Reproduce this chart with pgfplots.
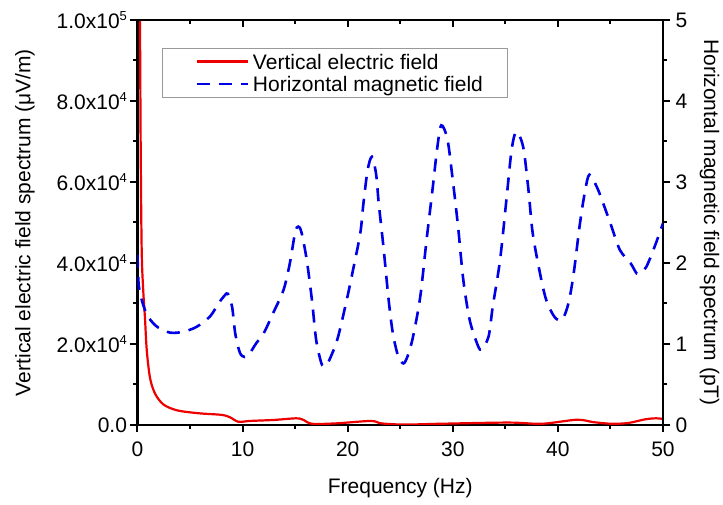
\documentclass[border=0pt]{standalone}
\usepackage{pgfplots}
\pgfplotsset{compat=1.18}
\usepackage{fontspec}
\setmainfont{Liberation Sans}
\newcommand\sx[1]{x10\raisebox{0.72ex}{\fontsize{13}{13}\selectfont #1}}
\newcommand\lstrut{\rule[-7pt]{0pt}{24pt}}
\definecolor{myred}{RGB}{238,0,0}
\definecolor{myblue}{RGB}{0,0,230}
\pgfplotsset{
  base/.style={
    scale only axis, width=525.5pt, height=405pt,
    xmin=0, xmax=50,
    /pgf/number format/assume math mode=true,
    axis line style={line width=2.2pt, line cap=rect},
    tick style={black, line width=2pt},
    major tick length=7pt, minor tick length=4pt,
    every tick label/.append style={font=\fontsize{21}{25}\selectfont},
    label style={font=\fontsize{21}{25}\selectfont},
  }
}
\begin{document}
\begin{tikzpicture}[font=\fontsize{21}{25}\selectfont]
% left axis + bottom axis
\begin{axis}[base,
  ymin=0, ymax=100000,
  axis x line*=bottom, axis y line*=left,
  tick align=outside,
  xtick={0,10,...,50}, minor x tick num=1,
  xticklabel style={yshift=-6pt},
  ytick={0,20000,40000,60000,80000,100000},
  yticklabels={0.0, 2.0\sx{4}, 4.0\sx{4}, 6.0\sx{4}, 8.0\sx{4}, 1.0\sx{5}},
  minor y tick num=1,
  scaled y ticks=false,
  xlabel={Frequency (Hz)},
  ylabel={Vertical electric field spectrum (μV/m)},
  xlabel style={at={(axis description cs:0.5,-0.1556)}, anchor=center},
  ylabel style={at={(axis description cs:-0.2141,0.5)}, anchor=center},
]
\addplot[myred, line width=2.2pt, smooth, tension=0.5] coordinates {
(0.2,120000)(0.3,70000)(0.4,43000)(0.55,33000)(0.71,26500)(0.88,18500)
(1.2,11500)(1.7,7600)(2.5,5000)(3.8,3600)(5.8,2900)(8.0,2500)(8.8,1900)
(9.6,800)(10.7,1000)(13.0,1250)(15.1,1650)(15.8,1250)(16.6,300)(18.9,400)
(22.2,1000)(23.2,400)(25.4,100)(28.7,300)(35.3,600)(38.5,300)(41.8,1300)
(43.4,700)(45.1,300)(46.7,500)(48.3,1400)(49.3,1650)(50,1500)
};
\end{axis}
% top axis line with inward ticks
\begin{axis}[base,
  ymin=0, ymax=1,
  axis x line*=top, axis y line=none,
  tick align=inside,
  xtick={0,10,...,50}, minor x tick num=1,
  xticklabels={},
]
\end{axis}
% right axis
\begin{axis}[base,
  ymin=0, ymax=5,
  axis y line*=right, axis x line=none,
  tick align=outside,
  ytick={0,1,2,3,4,5}, minor y tick num=1,
  yticklabel style={xshift=2pt},
  ylabel={Horizontal magnetic field spectrum (pT)},
  ylabel style={at={(axis description cs:1.0885,0.5)}, anchor=center, rotate=180},
  legend style={at={(rel axis cs:0.0466,0.931)}, anchor=north west,
    draw=gray!80, line width=0.8pt, fill=white,
    font=\fontsize{21}{25}\selectfont,
    inner xsep=22pt, inner ysep=2pt},
  legend cell align=left,
  legend image code/.code={\path (0pt,0pt) (64pt,0pt); \draw[#1] (11pt,0pt) -- (62pt,0pt);},
]
\addlegendimage{myred, line width=2.2pt}
\addlegendentry{\lstrut Vertical electric field}
\addplot[myblue, line width=2.6pt, dash pattern=on 13pt off 9pt, smooth, tension=0.5] coordinates {
(0,2.1)(0.1,1.75)(0.3,1.6)(0.55,1.48)(0.9,1.36)(1.4,1.27)(2.0,1.2)(3.1,1.14)
(4.3,1.15)(5.6,1.21)(6.9,1.34)(7.7,1.5)(8.3,1.6)(8.6,1.62)(9.0,1.46)(9.3,1.13)
(9.75,0.89)(10.2,0.84)(10.6,0.87)(11.3,1.01)(12.0,1.13)(12.9,1.38)(13.9,1.67)
(14.5,2.0)(15.0,2.38)(15.3,2.45)(15.6,2.38)(16.1,2.04)(16.6,1.54)(17.0,1.05)
(17.5,0.76)(17.8,0.73)(18.1,0.76)(19.0,1.05)(19.9,1.54)(20.5,1.91)(21.2,2.37)
(21.5,2.74)(21.9,3.15)(22.3,3.31)(22.7,3.1)(22.95,2.74)(23.4,2.2)(23.9,1.54)
(24.3,1.13)(24.8,0.85)(25.3,0.76)(25.7,0.85)(26.2,1.08)(26.9,1.58)(27.5,2.28)
(28.1,2.94)(28.5,3.4)(28.9,3.7)(29.5,3.52)(30.0,3.02)(30.5,2.45)(31.0,1.79)
(31.6,1.30)(32.3,1.01)(32.7,0.93)(33.4,1.09)(33.8,1.46)(34.5,2.04)(35.1,2.78)
(35.6,3.4)(36.05,3.62)(36.7,3.43)(37.2,2.9)(37.6,2.37)(38.3,1.87)(38.9,1.54)
(39.7,1.33)(40.4,1.3)(41.0,1.5)(41.5,1.87)(42.1,2.49)(42.6,2.9)(43.0,3.09)
(43.7,2.94)(44.3,2.74)(45.1,2.45)(45.9,2.16)(46.9,2.0)(47.5,1.87)(47.8,1.88)
(48.4,1.95)(49.2,2.2)(50,2.49)
};
\addlegendentry{\lstrut Horizontal magnetic field}
\end{axis}
\pgfresetboundingbox
\path (-137.5pt,-80pt) rectangle (585.5pt,425pt);
\end{tikzpicture}
\end{document}
